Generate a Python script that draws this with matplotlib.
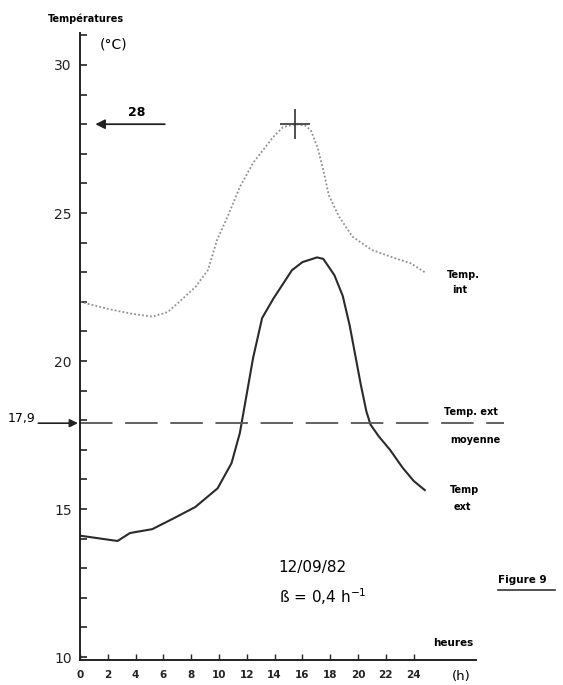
import matplotlib

matplotlib.use("Agg")
import matplotlib.pyplot as plt
from matplotlib.ticker import MultipleLocator

plt.rcParams["font.family"] = ["DejaVu Sans"]

# heures / températures
hours_ext = [0, 1.5, 2.7, 3.6, 5.2, 6.8, 8.3, 9.9, 10.9, 11.5, 12.45, 13.1, 13.9,
             15.25, 16.0, 17.05, 17.5, 18.3, 18.9, 19.4, 19.8, 20.2, 20.6, 20.9,
             21.5, 22.3, 23.2, 24.0, 24.8]
temp_ext = [14.1, 14.0, 13.92, 14.19, 14.32, 14.7, 15.07, 15.7, 16.55, 17.57, 20.1,
            21.45, 22.1, 23.07, 23.34, 23.5, 23.45, 22.9, 22.2, 21.2, 20.2, 19.2,
            18.3, 17.85, 17.45, 17.0, 16.4, 15.95, 15.64]

hours_int = [0, 2.0, 3.7, 5.2, 6.3, 7.05, 8.3, 9.2, 9.86, 10.6, 11.5, 12.45, 13.9,
             14.6, 15.5, 16.2, 16.6, 17.1, 17.5, 17.9, 18.6, 19.6, 21.0, 22.5, 23.8, 24.8]
temp_int = [22.0, 21.76, 21.6, 21.5, 21.65, 21.96, 22.5, 23.07, 24.09, 24.86, 25.88,
            26.69, 27.57, 27.9, 28.0, 27.95, 27.8, 27.2, 26.45, 25.6, 24.9, 24.2,
            23.75, 23.5, 23.3, 23.0]

peak_hour = 15.5
peak_temp = 28
mean_ext = 17.9
x_ticks = list(range(0, 25, 2))
y_ticks = [10, 15, 20, 25, 30]

fig = plt.figure(figsize=(5.63, 6.85), dpi=100)
ax = fig.add_axes([0.1421, 0.0365, 0.7037, 0.9153])
ax.set_xlim(0, 28.5)
ax.set_ylim(9.9, 31.08)

for side in ("top", "right"):
    ax.spines[side].set_visible(False)
for side in ("left", "bottom"):
    ax.spines[side].set_linewidth(1.4)
    ax.spines[side].set_color("#222222")

ax.set_xticks(x_ticks)
ax.set_yticks(y_ticks)
ax.yaxis.set_minor_locator(MultipleLocator(1))
ax.tick_params(axis="y", which="both", direction="in", length=5, width=1.2,
               labelsize=10, pad=6, colors="#222222")
ax.tick_params(axis="x", direction="in", length=4, width=1.0, labelsize=7.5,
               pad=7, colors="#222222")
for lab in ax.get_xticklabels():
    lab.set_fontweight("bold")

# courbes
ax.plot(hours_int, temp_int, color="#8f8f8f", lw=1.3, linestyle=(0, (1, 1.2)))
ax.plot(hours_ext, temp_ext, color="#2a2a2a", lw=1.5)
ax.plot([0, 30.5], [mean_ext, mean_ext], color="#555555", lw=1.3,
        linestyle=(0, (18, 7)), clip_on=False)
ax.plot(peak_hour, peak_temp, marker="+", ms=22, mew=1.2, color="#333333")

# flèches 28 et 17,9
ax.annotate("", xy=(1.1, peak_temp), xytext=(6.1, peak_temp),
            arrowprops=dict(arrowstyle="-|>", color="#222222", lw=1.3,
                            mutation_scale=14, shrinkA=0, shrinkB=0))
ax.text(4.1, 28.41, "28", fontsize=9, fontweight="bold", ha="center", va="center")
ax.annotate("", xy=(-0.15, mean_ext), xytext=(-3.0, mean_ext),
            annotation_clip=False,
            arrowprops=dict(arrowstyle="-|>", color="#222222", lw=1.2,
                            mutation_scale=12, shrinkA=0, shrinkB=0))
ax.text(-4.2, 18.05, "17,9", fontsize=9, ha="center", va="center")

# textes
ax.text(0.43, 31.55, "Températures", fontsize=7, fontweight="bold",
        ha="center", va="center")
ax.text(2.45, 30.68, "(°C)", fontsize=10, ha="center", va="center")
ax.text(26.4, 22.9, "Temp.", fontsize=7, fontweight="bold", va="center")
ax.text(26.8, 22.4, "int", fontsize=7, fontweight="bold", va="center")
ax.text(26.2, 18.28, "Temp. ext", fontsize=7, fontweight="bold", va="center")
ax.text(26.6, 17.33, "moyenne", fontsize=7, fontweight="bold", va="center")
ax.text(26.6, 15.64, "Temp", fontsize=7, fontweight="bold", va="center")
ax.text(26.9, 15.07, "ext", fontsize=7, fontweight="bold", va="center")
ax.text(14.3, 13.04, "12/09/82", fontsize=11, va="center")
ax.text(14.3, 12.03, r"ß = 0,4 h$^{-1}$", fontsize=11, va="center")
ax.text(30.1, 12.6, "Figure 9", fontsize=7.5, fontweight="bold", va="center")
ax.plot([30.1, 34.2], [12.25, 12.25], color="#333333", lw=1.2, clip_on=False)
ax.text(25.4, 10.47, "heures", fontsize=7.5, fontweight="bold", va="center")
ax.text(27.4, 9.33, "(h)", fontsize=9.5, ha="center", va="center")

fig.savefig("out.png", dpi=100)
